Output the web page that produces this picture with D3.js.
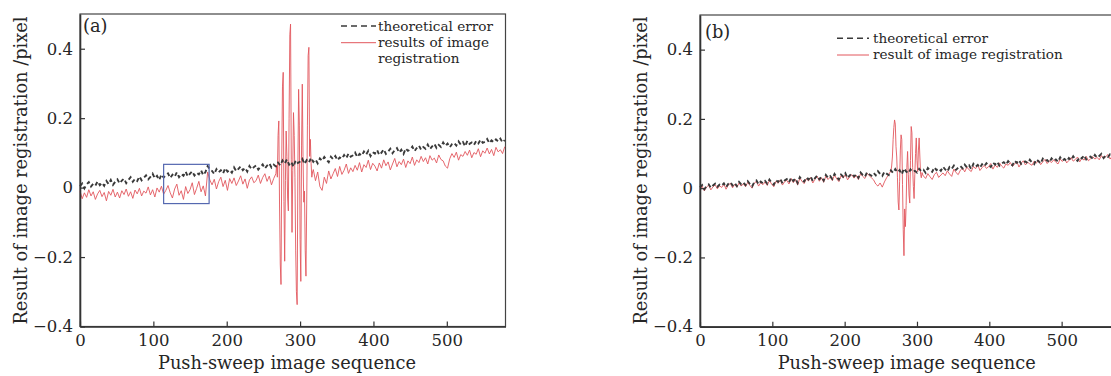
<!doctype html>
<html>
    <head>
	<title>Image registration error</title>
	<script src="https://cdn.jsdelivr.net/npm/d3@7"></script>
	<meta charset="utf-8" />
	<style>
	 body { margin: 0; background: #fff; }
	 text { font-family: "DejaVu Serif", serif; fill: #262626; }
	</style>
    </head>
    <body>
	<script type="text/javascript">

	 // ---- data ----
	 var xTicks = [0, 100, 200, 300, 400, 500];
	 var yTicks = [-0.4, -0.2, 0, 0.2, 0.4];
	 var yTickLabels = ["\u22120.4", "\u22120.2", "0", "0.2", "0.4"];

	 // image sequence numbers sampled for each curve
	 var seqTheoryA = d3.range(0, 580, 3);
	 var seqRegA = d3.range(0, 267, 3).concat(d3.range(267, 318, 1), d3.range(318, 580, 3));
	 var seqTheoryB = d3.range(0, 580, 3);
	 var seqRegB = d3.range(0, 264, 3).concat(d3.range(264, 309, 1), d3.range(309, 580, 3));

	 // (a) theoretical error
	 var theoryA = [
	     .004,.012,-.002,.009,.016,.003,.011,.006,.018,.007,
	     .014,.005,.019,.010,.022,.008,.017,.024,.012,.020,
	     .026,.013,.022,.030,.017,.025,.019,.032,.021,.028,
	     .035,.024,.031,.040,.027,.034,.022,.038,.029,.036,
	     .041,.028,.037,.031,.044,.030,.039,.034,.046,.032,
	     .040,.047,.035,.043,.038,.050,.036,.045,.062,.052,
	     .048,.039,.053,.044,.050,.041,.056,.046,.051,.043,
	     .058,.047,.054,.061,.050,.057,.046,.062,.053,.059,
	     .064,.052,.060,.067,.055,.063,.070,.058,.066,.061,
	     .072,.064,.078,.069,.081,.066,.074,.060,.079,.071,
	     .075,.083,.068,.079,.072,.086,.074,.081,.070,.084,
	     .077,.088,.080,.073,.089,.082,.091,.079,.087,.083,
	     .094,.085,.098,.089,.093,.101,.088,.097,.092,.104,
	     .095,.106,.091,.102,.098,.108,.094,.101,.110,.097,
	     .104,.112,.099,.108,.114,.101,.109,.097,.113,.106,
	     .110,.118,.105,.114,.121,.109,.117,.112,.124,.111,
	     .119,.126,.114,.123,.117,.130,.120,.127,.116,.125,
	     .129,.121,.133,.124,.131,.119,.135,.126,.130,.123,
	     .134,.127,.138,.129,.132,.140,.128,.136,.131,.139,
	     .133,.141,.130,.137
	 ];

	 // (a) results of image registration
	 var regA = [
	     -.010,-.032,-.015,-.028,-.006,-.024,-.012,-.034,-.018,-.008,
	     -.026,-.014,-.038,-.011,-.022,-.005,-.027,-.013,-.030,-.009,
	     -.020,-.004,-.025,-.012,-.031,-.007,-.018,-.002,-.024,-.010,
	     -.016,.002,-.021,-.006,-.027,-.001,-.013,.004,-.019,-.008,
	     .006,-.015,-.030,-.004,.010,-.022,-.009,-.034,.003,-.017,
	     -.006,.014,-.020,-.002,.018,-.012,.005,-.024,.045,.022,
	     .008,.024,-.004,.017,.030,.003,.021,-.008,.026,.012,
	     .028,.006,.019,.034,.010,.025,-.002,.022,.031,.014,
	     .020,.036,.012,.029,.040,.018,.033,.008,.026,
	     // 267 .. 317, one per image
	     .040,.065,.030,.150,.192,-.050,-.220,-.279,.080,.290,
	     .332,-.040,-.212,.020,.163,.090,-.030,-.067,.200,.440,
	     .471,.080,-.129,.050,.216,.150,.030,-.180,-.300,-.337,
	     .060,.283,.180,-.150,-.270,.120,.298,.090,-.042,-.010,
	     -.180,-.255,-.050,.180,.380,.404,.090,.139,.070,.030,
	     .045,
	     // 318 .. 579
	     .052,.020,.045,.003,-.008,.030,.012,.048,.025,.040,
	     .055,.032,.061,.038,.050,.068,.041,.057,.046,.064,
	     .050,.072,.045,.066,.058,.079,.052,.070,.062,.048,
	     .071,.056,.080,.063,.074,.051,.068,.084,.060,.075,
	     .066,.082,.058,.077,.069,.088,.064,.080,.072,.090,
	     .075,.086,.068,.092,.079,.085,.071,.094,.081,.077,
	     .062,.056,.083,.098,.087,.102,.079,.095,.090,.104,
	     .093,.108,.086,.101,.096,.112,.089,.106,.099,.114,
	     .097,.110,.092,.116,.103,.109,.098,.118
	 ];

	 // (b) theoretical error
	 var theoryB = [
	     .002,.009,-.003,.006,.011,.001,.008,.013,.004,.010,
	     .007,.014,.003,.012,.017,.008,.015,.006,.018,.011,
	     .016,.009,.020,.012,.005,.017,.022,.011,.019,.014,
	     .021,.013,.025,.016,.010,.023,.018,.027,.014,.022,
	     .026,.017,.030,.021,.028,.015,.032,.024,.019,.031,
	     .025,.034,.020,.029,.036,.026,.033,.022,.038,.030,
	     .035,.027,.041,.032,.025,.039,.033,.043,.029,.037,
	     .042,.034,.040,.030,.045,.038,.033,.046,.040,.036,
	     .044,.037,.049,.041,.035,.047,.042,.038,.051,.044,
	     .055,.046,.052,.040,.057,.048,.043,.054,.047,.050,
	     .045,.056,.049,.053,.044,.058,.051,.047,.060,.052,
	     .057,.050,.062,.054,.048,.061,.056,.065,.053,.059,
	     .064,.057,.068,.060,.066,.055,.070,.062,.067,.059,
	     .069,.063,.072,.066,.061,.074,.068,.076,.065,.071,
	     .075,.068,.078,.071,.066,.079,.073,.081,.070,.076,
	     .077,.072,.082,.074,.069,.083,.078,.071,.085,.079,
	     .081,.074,.086,.079,.083,.076,.089,.080,.084,.078,
	     .087,.081,.092,.084,.079,.090,.086,.095,.083,.089,
	     .091,.085,.096,.088,.093,.099,.087,.094,.090,.098,
	     .095,.089,.101,.093
	 ];

	 // (b) result of image registration
	 var regB = [
	     -.004,.006,-.008,.003,.009,-.005,.004,.010,-.002,.007,
	     .002,.012,-.003,.009,.014,.001,.011,.003,.015,.006,
	     .013,.004,.017,.008,.000,.015,.019,.006,.016,.010,
	     .018,.008,.022,.012,.004,.020,.014,.024,.009,.019,
	     .023,.012,.028,.016,.025,.009,.029,.020,.013,.027,
	     .021,.031,.015,.026,.034,.020,.030,.017,.035,.025,
	     .032,.022,.038,.027,.019,.036,.029,.040,.024,.033,
	     .039,.029,.037,.025,.042,.034,.028,.043,.036,.030,
	     .024,.012,.006,.015,.003,.018,.030,.040,
	     // 264 .. 308, one per image
	     .050,.064,.090,.140,.175,.197,.185,.120,.090,.030,
	     -.040,-.063,.020,.110,.154,.140,.010,-.120,-.195,-.060,
	     -.111,-.050,.060,.106,.040,-.020,-.043,.080,.178,.160,
	     .060,.005,-.030,.040,.100,.145,.080,.048,.110,.145,
	     .090,.040,.030,.045,.038,
	     // 309 .. 579
	     .035,.028,.042,.033,.025,.039,.046,.031,.038,.044,
	     .036,.050,.041,.034,.055,.045,.039,.052,.058,.047,
	     .061,.053,.048,.063,.056,.068,.051,.059,.066,.057,
	     .062,.071,.055,.067,.060,.073,.064,.058,.070,.066,
	     .074,.063,.069,.077,.061,.072,.079,.067,.075,.070,
	     .066,.078,.072,.081,.068,.076,.083,.071,.079,.074,
	     .082,.075,.070,.084,.077,.086,.073,.080,.088,.078,
	     .083,.090,.076,.087,.081,.092,.079,.085,.091,.084,
	     .089,.082,.094,.086,.091,.097,.084,.093,.088,.099,
	     .102
	 ];

	 // zoom box drawn in (a): sequence range and value range
	 var boxSeq = [114, 176];
	 var boxVal = [-0.046, 0.067];

	 // ---- drawing ----
	 var w = 1111;
	 var h = 376;

	 var svg = d3.select("body")
		     .append("svg")
		     .attr("width", w)
		     .attr("height", h);

	 var black = "#3a3a3a";
	 var red = "#e2575d";

	 var draw_panel = function(p){

	     var xScale = d3.scaleLinear()
			    .domain([0, 580])
			    .range([p.left, p.right]);

	     var yScale = d3.scaleLinear()
			    .domain([-0.4, 0.5])
			    .range([p.bottom, p.top]);

	     var g = svg.append("g");

	     // frame (top and right)
	     g.append("rect")
	      .attr("x", p.left)
	      .attr("y", p.top)
	      .attr("width", p.right - p.left)
	      .attr("height", p.bottom - p.top)
	      .attr("fill", "none")
	      .attr("stroke", "#444")
	      .attr("stroke-width", 1.2);

	     var line = d3.line()
			  .x(function(d){ return xScale(d[0]); })
			  .y(function(d){ return yScale(d[1]); });

	     // registration result (red, thin)
	     g.append("path")
	      .datum(d3.zip(p.seqReg, p.reg))
	      .attr("d", line)
	      .attr("fill", "none")
	      .attr("stroke", red)
	      .attr("stroke-width", 0.9)
	      .attr("stroke-linejoin", "round");

	     // theoretical error (dashed black)
	     g.append("path")
	      .datum(d3.zip(p.seqTheory, p.theory))
	      .attr("d", line)
	      .attr("fill", "none")
	      .attr("stroke", black)
	      .attr("stroke-width", 1.9)
	      .attr("stroke-dasharray", "4,3");

	     if(p.box){
		 g.append("rect")
		  .attr("x", xScale(p.box[0][0]))
		  .attr("y", yScale(p.box[1][1]))
		  .attr("width", xScale(p.box[0][1]) - xScale(p.box[0][0]))
		  .attr("height", yScale(p.box[1][0]) - yScale(p.box[1][1]))
		  .attr("fill", "none")
		  .attr("stroke", "#5568b0")
		  .attr("stroke-width", 1.2);
	     }

	     // axes
	     var xAxis = d3.axisBottom(xScale)
			   .tickValues(xTicks)
			   .tickSizeInner(-5)
			   .tickSizeOuter(0)
			   .tickPadding(8)
			   .tickFormat(d3.format("d"));

	     var yAxis = d3.axisLeft(yScale)
			   .tickValues(yTicks)
			   .tickSizeInner(-5)
			   .tickSizeOuter(0)
			   .tickPadding(7)
			   .tickFormat(function(d, i){ return yTickLabels[i]; });

	     var gx = g.append("g")
		       .attr("transform", "translate(0," + p.bottom + ")")
		       .call(xAxis);
	     var gy = g.append("g")
		       .attr("transform", "translate(" + p.left + ",0)")
		       .call(yAxis);

	     [gx, gy].forEach(function(a){
		 a.select(".domain").attr("stroke", "#333").attr("stroke-width", 1.6);
		 a.selectAll(".tick line").attr("stroke", "#333").attr("stroke-width", 1.2);
		 a.selectAll(".tick text")
		  .attr("font-family", "DejaVu Serif")
		  .attr("font-size", "16.5px")
		  .attr("fill", "#262626");
	     });

	     // axis titles
	     g.append("text")
	      .attr("x", p.xTitleX)
	      .attr("y", 369)
	      .attr("text-anchor", "middle")
	      .attr("font-size", "17.8px")
	      .text("Push-sweep image sequence");

	     g.append("text")
	      .attr("transform", "translate(" + p.yTitleX + ",170.5) rotate(-90)")
	      .attr("text-anchor", "middle")
	      .attr("font-size", "17.8px")
	      .text("Result of image registration /pixel");

	     // panel tag
	     g.append("text")
	      .attr("x", p.tag[1])
	      .attr("y", p.tag[2])
	      .attr("font-size", "17.8px")
	      .text(p.tag[0]);

	     // legend
	     var lg = p.legend;
	     g.append("line")
	      .attr("x1", lg.x1).attr("x2", lg.x2)
	      .attr("y1", lg.y1).attr("y2", lg.y1)
	      .attr("stroke", black)
	      .attr("stroke-width", 1.6)
	      .attr("stroke-dasharray", "6,4");
	     g.append("line")
	      .attr("x1", lg.x1).attr("x2", lg.x2)
	      .attr("y1", lg.y2).attr("y2", lg.y2)
	      .attr("stroke", red)
	      .attr("stroke-width", 1);

	     lg.lines.forEach(function(t, i){
		 g.append("text")
		  .attr("x", lg.tx)
		  .attr("y", lg.ty + i * lg.dy)
		  .attr("font-size", "13.6px")
		  .text(t);
	     });
	 };

	 draw_panel({
	     left: 80, right: 505.5, top: 14, bottom: 326.5,
	     seqTheory: seqTheoryA, theory: theoryA,
	     seqReg: seqRegA, reg: regA,
	     box: [boxSeq, boxVal],
	     xTitleX: 287, yTitleX: 27,
	     tag: ["(a)", 83, 32],
	     legend: { x1: 341, x2: 376, y1: 26, y2: 42.7, tx: 378, ty: 30.5, dy: 16.3,
		       lines: ["theoretical error", "results of image", "registration"] }
	 });

	 draw_panel({
	     left: 700, right: 1119.5, top: 15, bottom: 326.7,
	     seqTheory: seqTheoryB, theory: theoryB,
	     seqReg: seqRegB, reg: regB,
	     box: null,
	     xTitleX: 906.7, yTitleX: 647,
	     tag: ["(b)", 705, 38],
	     legend: { x1: 837, x2: 869, y1: 38.3, y2: 55, tx: 873, ty: 43, dy: 16,
		       lines: ["theoretical error", "result of image registration"] }
	 });

	</script>
    </body>
</html>
